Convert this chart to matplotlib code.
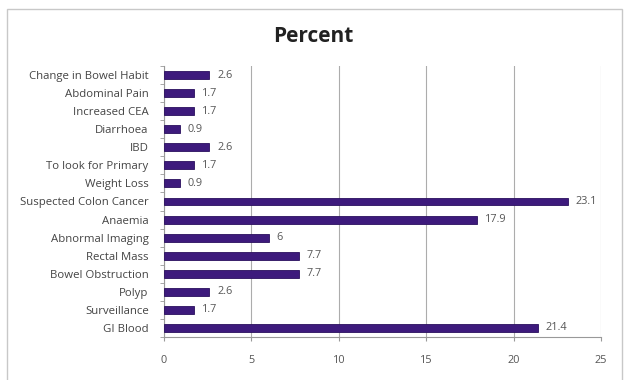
import matplotlib.pyplot as plt
from matplotlib.patches import Rectangle

# indications, listed bottom to top as they appear on the chart
categories = ['GI Blood', 'Surveillance', 'Polyp', 'Bowel Obstruction', 'Rectal Mass',
              'Abnormal Imaging', 'Anaemia', 'Suspected Colon Cancer', 'Weight Loss',
              'To look for Primary', 'IBD', 'Diarrhoea', 'Increased CEA',
              'Abdominal Pain', 'Change in Bowel Habit']
percent = [21.4, 1.7, 2.6, 7.7, 7.7, 6, 17.9, 23.1, 0.9, 1.7, 2.6, 0.9, 1.7, 1.7, 2.6]
x_ticks = [0, 5, 10, 15, 20, 25]

plt.rcParams['font.family'] = ['Open Sans', 'DejaVu Sans']

fig = plt.figure(figsize=(6.27, 3.8), dpi=100)

# light grey chart frame
fig.patches.append(Rectangle((7 / 627, -0.01), 615 / 627, 1 - 9 / 380 + 0.01,
                             transform=fig.transFigure, fill=False,
                             edgecolor='#c8c8c8', linewidth=1.0))

ax = fig.add_axes([164 / 627, 1 - 337 / 380, 437 / 627, 271 / 380])
y = range(len(categories))
ax.barh(y, percent, height=0.44, color='#3d1a7c', edgecolor='#2a0f5e', linewidth=0.6,
        zorder=3)
for yi, v in zip(y, percent):
    ax.text(v + 0.45, yi, f'{v:g}', va='center', ha='left', fontsize=7.8, color='#555555')

ax.set_xlim(0, 25)
ax.set_ylim(-0.5, len(categories) - 0.5)
ax.set_xticks(x_ticks)
ax.set_xticklabels([str(t) for t in x_ticks], fontsize=7.8, color='#555555')
ax.set_yticks(list(y))
ax.set_yticklabels(categories, fontsize=8.2, color='#444444')
ax.set_yticks([i - 0.5 for i in range(len(categories) + 1)], minor=True)
ax.tick_params(axis='y', which='major', length=0, pad=11)
ax.tick_params(axis='y', which='minor', length=3, color='#999999')
ax.tick_params(axis='x', length=3, color='#999999', pad=10)
ax.grid(axis='x', color='#acacac', linewidth=0.8, zorder=0)
for side in ['top', 'right']:
    ax.spines[side].set_visible(False)
ax.spines['left'].set_color('#999999')
ax.spines['bottom'].set_color('#999999')

fig.text(0.5, 1 - 37 / 380, 'Percent', ha='center', va='center', fontsize=15,
         fontweight='bold', color='#222222')

fig.savefig('out.png', dpi=100)
